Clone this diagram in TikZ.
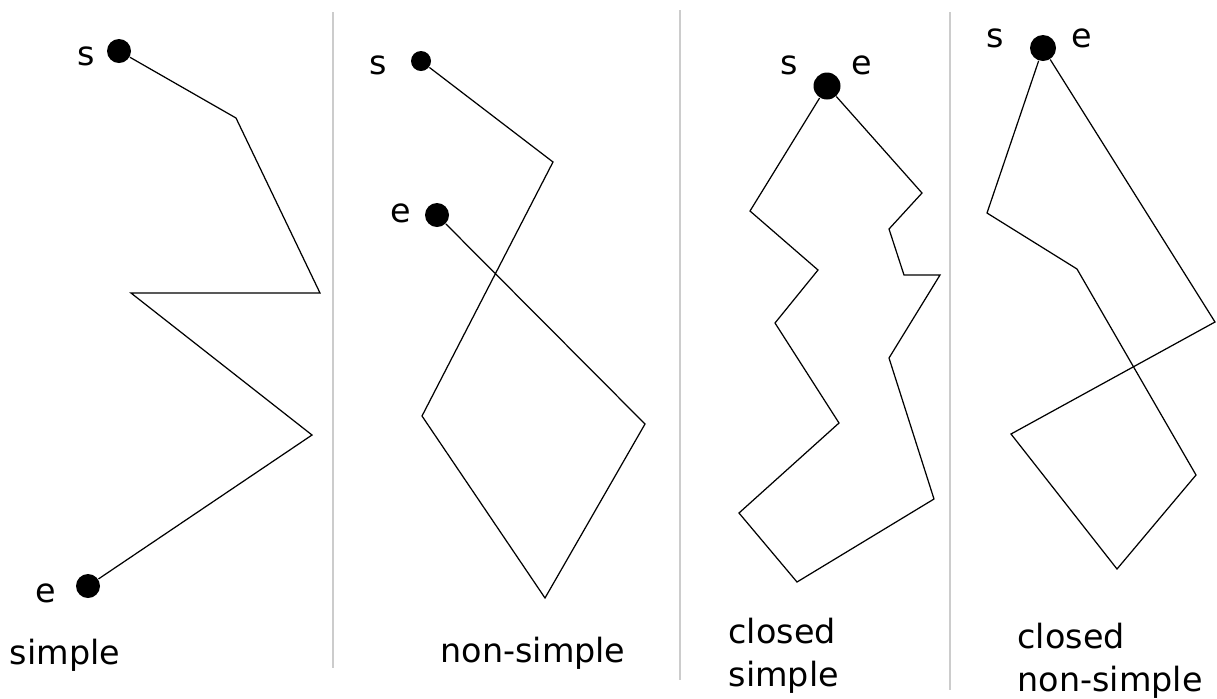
\documentclass[tikz,border=0pt]{standalone}
\usepackage{fontspec}
\setmainfont{DejaVu Sans}
\begin{document}
\begin{tikzpicture}[x=0.02cm, y=-0.02cm, line width=0.7pt,
    dot/.style={circle, fill, inner sep=0pt, minimum size=#1*0.02cm},
    lbl/.style={font=\fontsize{19}{24.5}\selectfont, inner sep=0pt},
    sep/.style={gray!40, line width=1.2pt}]
  \useasboundingbox (0,0) rectangle (1217,698);

  % separators
  \draw[sep] (333,12) -- (333,668);
  \draw[sep] (680,10) -- (680,680);
  \draw[sep] (950,12) -- (950,690);

  % simple
  \node[dot=24] (s1) at (119,51) {};
  \node[dot=24] (e1) at (88,586) {};
  \node[lbl] (s1l) at (86,56) {s};
  \node[lbl] (e1l) at (46,593) {e};
  \draw (s1) -- (236,118) -- (320,293) -- (131,293) -- (312,435) -- (e1);
  \node[lbl] (t1) at (65,655) {simple};

  % non-simple
  \node[dot=20] (s2) at (421,61) {};
  \node[dot=24] (e2) at (437,215) {};
  \node[lbl] (s2l) at (378,65) {s};
  \node[lbl] (e2l) at (401,213) {e};
  \draw (s2) -- (553,162) -- (422,416) -- (545,598) -- (645,424) -- (e2);
  \node[lbl] (t2) at (533,653) {non-simple};

  % closed simple
  \node[dot=27] (d3) at (827,86) {};
  \node[lbl] (s3l) at (789,65) {s};
  \node[lbl] (e3l) at (862,65) {e};
  \draw (d3) -- (750,211) -- (818,270) -- (775,323) -- (839,423) -- (739,513)
    -- (797,582) -- (934,499) -- (889,358) -- (940,275) -- (904,275)
    -- (889,229) -- (922,193) -- (d3);
  \node[lbl, align=left, anchor=west] (t3) at (728,656) {closed\\simple};

  % closed non-simple
  \node[dot=26] (d4) at (1043,48) {};
  \node[lbl] (s4l) at (995,38) {s};
  \node[lbl] (e4l) at (1082,38) {e};
  \draw (d4) -- (987,213) -- (1077,269) -- (1196,475) -- (1117,569)
    -- (1011,434) -- (1215,322) -- (d4);
  \node[lbl, align=left, anchor=west] (t4) at (1017,661) {closed\\non-simple};
\end{tikzpicture}
\end{document}
